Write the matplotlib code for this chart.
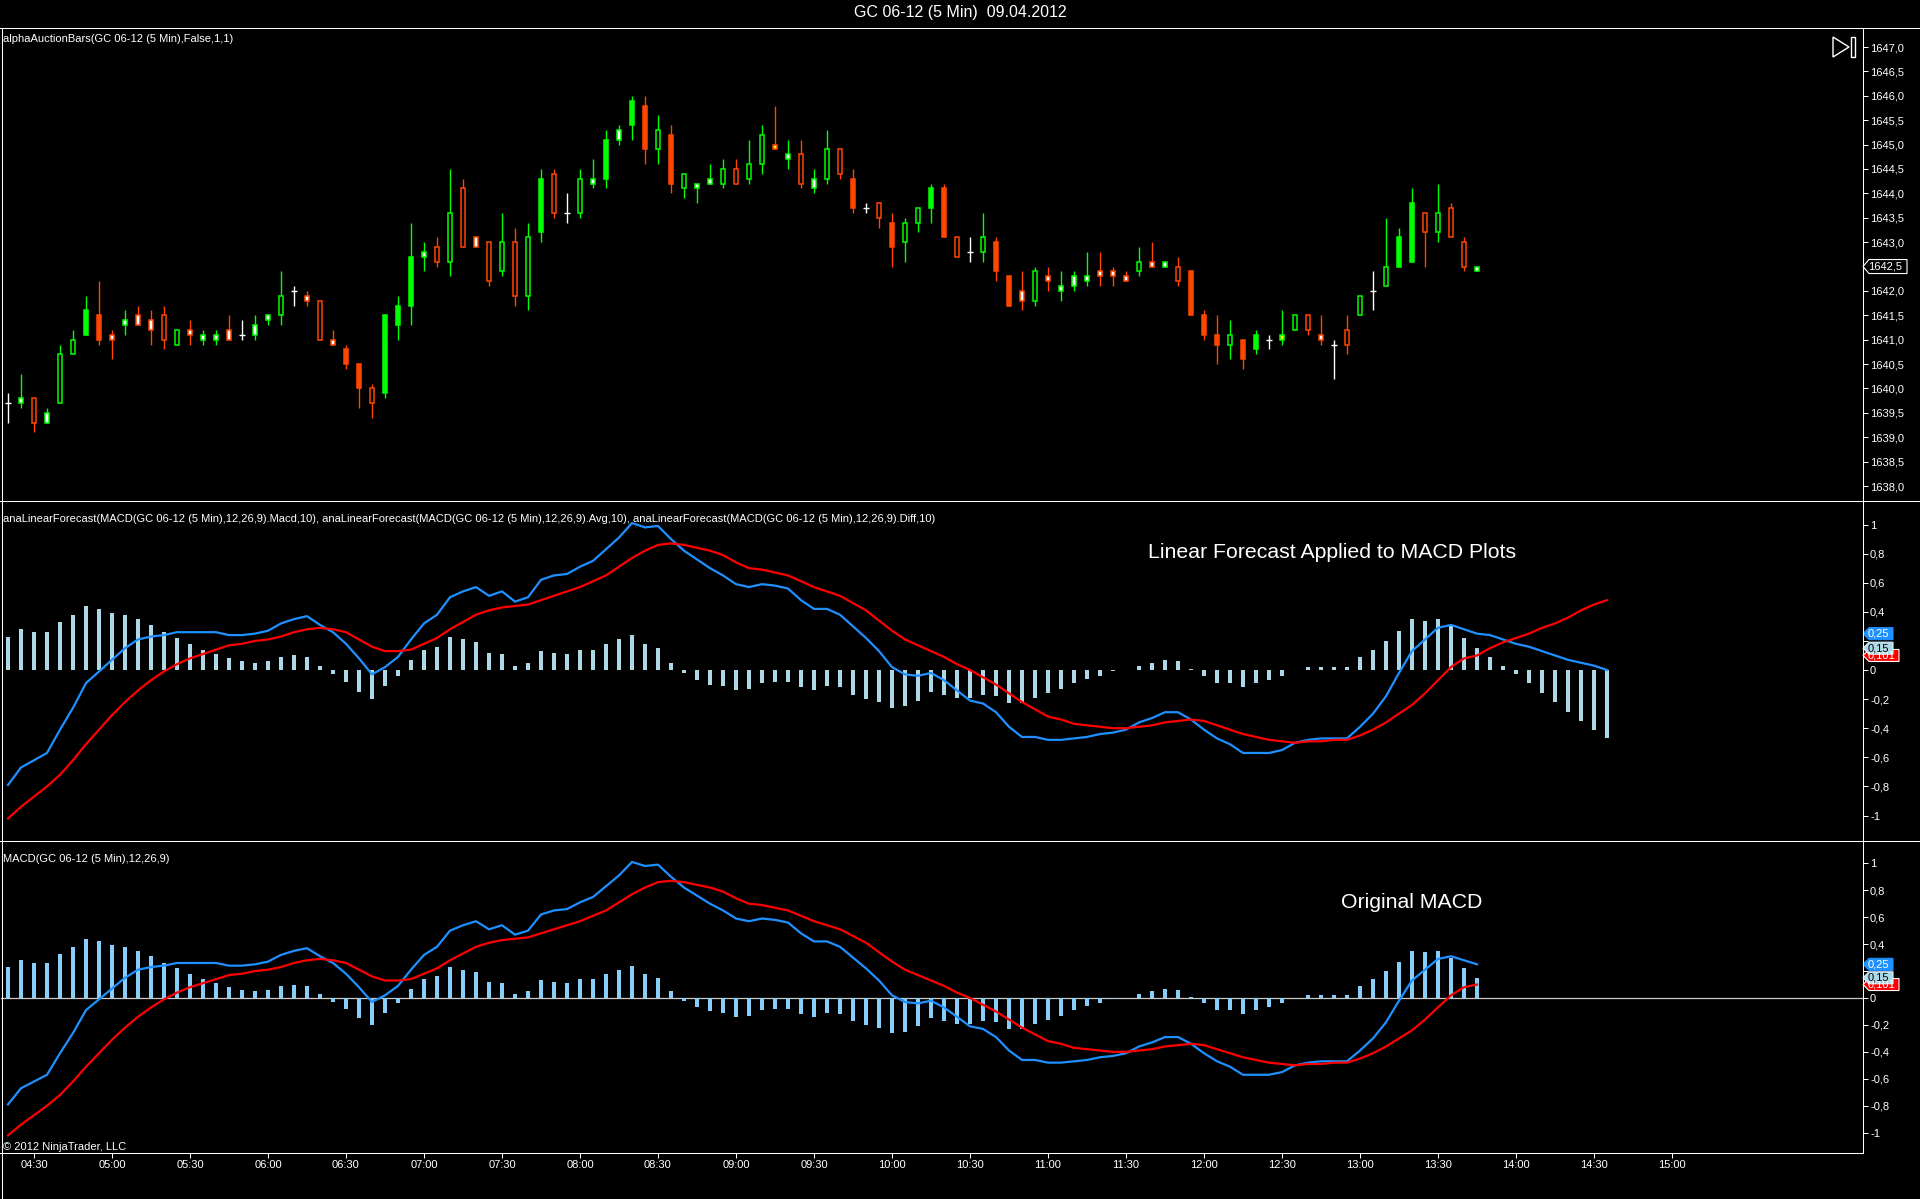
import numpy as np
import matplotlib
matplotlib.use("Agg")
import matplotlib.pyplot as plt
import matplotlib.transforms as mtransforms
from matplotlib.patches import Polygon

W, H = 1920, 1199
plt.rcParams["font.family"] = ["Liberation Sans", "DejaVu Sans"]
INK = "white"

# ---- GC 06-12, 5 min bars from 04:20 to 13:45 -------------------------------
opens = [1639.7, 1639.7, 1639.8, 1639.3, 1639.7, 1640.7, 1641.1, 1641.5, 1641.1, 1641.3,
         1641.5, 1641.4, 1641.5, 1640.9, 1641.2, 1641.0, 1641.0, 1641.2, 1641.1, 1641.1,
         1641.4, 1641.5, 1642.0, 1641.9, 1641.8, 1641.0, 1640.8, 1640.5, 1640.0, 1639.9,
         1641.3, 1641.7, 1642.7, 1642.9, 1642.6, 1644.1, 1643.1, 1643.0, 1642.4, 1643.0,
         1641.9, 1643.2, 1644.4, 1643.6, 1643.6, 1644.2, 1644.3, 1645.1, 1645.4, 1645.8,
         1644.9, 1645.2, 1644.1, 1644.1, 1644.2, 1644.2, 1644.5, 1644.3, 1644.6, 1645.0,
         1644.7, 1644.8, 1644.1, 1644.3, 1644.9, 1644.3, 1643.7, 1643.8, 1643.4, 1643.0,
         1643.4, 1643.7, 1644.1, 1643.1, 1642.8, 1642.8, 1643.0, 1642.3, 1642.0, 1641.8,
         1642.3, 1642.0, 1642.1, 1642.2, 1642.4, 1642.4, 1642.3, 1642.4, 1642.6, 1642.5,
         1642.5, 1642.4, 1641.5, 1641.1, 1640.9, 1641.0, 1640.8, 1641.0, 1641.0, 1641.2,
         1641.5, 1641.1, 1640.9, 1641.2, 1641.5, 1642.0, 1642.1, 1642.5, 1642.6, 1643.6,
         1643.2, 1643.7, 1643.0, 1642.4]
highs = [1639.9, 1640.3, 1639.8, 1639.6, 1640.9, 1641.2, 1641.9, 1642.2, 1641.2, 1641.6,
         1641.7, 1641.6, 1641.7, 1641.2, 1641.4, 1641.2, 1641.2, 1641.5, 1641.4, 1641.5,
         1641.5, 1642.4, 1642.1, 1642.0, 1641.8, 1641.2, 1640.9, 1640.5, 1640.1, 1641.5,
         1641.9, 1643.4, 1643.0, 1643.1, 1644.5, 1644.3, 1643.1, 1643.0, 1643.6, 1643.3,
         1643.4, 1644.5, 1644.5, 1644.0, 1644.5, 1644.7, 1645.3, 1645.4, 1646.0, 1646.0,
         1645.6, 1645.4, 1644.4, 1644.2, 1644.6, 1644.7, 1644.7, 1645.1, 1645.4, 1645.8,
         1645.1, 1645.1, 1644.5, 1645.3, 1644.9, 1644.5, 1643.8, 1643.8, 1643.6, 1643.5,
         1643.7, 1644.2, 1644.2, 1643.1, 1643.1, 1643.6, 1643.1, 1642.3, 1642.4, 1642.5,
         1642.5, 1642.4, 1642.4, 1642.8, 1642.8, 1642.5, 1642.4, 1642.9, 1643.0, 1642.6,
         1642.7, 1642.4, 1641.6, 1641.5, 1641.4, 1641.0, 1641.2, 1641.1, 1641.6, 1641.5,
         1641.5, 1641.5, 1641.0, 1641.5, 1641.9, 1642.4, 1643.5, 1643.3, 1644.1, 1643.6,
         1644.2, 1643.8, 1643.1, 1642.5]
lows = [1639.3, 1639.6, 1639.1, 1639.3, 1639.7, 1640.7, 1641.1, 1640.9, 1640.6, 1641.1,
        1641.3, 1640.9, 1640.8, 1640.9, 1640.9, 1640.9, 1640.9, 1641.0, 1641.0, 1641.0,
        1641.3, 1641.3, 1641.7, 1641.7, 1641.0, 1640.9, 1640.4, 1639.6, 1639.4, 1639.8,
        1641.0, 1641.3, 1642.4, 1642.5, 1642.3, 1642.9, 1642.9, 1642.1, 1642.3, 1641.7,
        1641.6, 1643.0, 1643.5, 1643.4, 1643.5, 1644.1, 1644.1, 1645.0, 1645.1, 1644.6,
        1644.6, 1644.0, 1643.9, 1643.8, 1644.2, 1644.1, 1644.2, 1644.2, 1644.4, 1644.9,
        1644.5, 1644.1, 1644.0, 1644.2, 1644.3, 1643.6, 1643.6, 1643.3, 1642.5, 1642.6,
        1643.2, 1643.4, 1643.1, 1642.7, 1642.6, 1642.6, 1642.2, 1641.7, 1641.6, 1641.7,
        1642.0, 1641.8, 1642.0, 1642.1, 1642.1, 1642.1, 1642.2, 1642.3, 1642.5, 1642.5,
        1642.1, 1641.5, 1641.0, 1640.5, 1640.6, 1640.4, 1640.7, 1640.8, 1640.9, 1641.2,
        1641.1, 1640.9, 1640.2, 1640.7, 1641.5, 1641.6, 1642.1, 1642.5, 1642.6, 1642.5,
        1643.0, 1643.1, 1642.4, 1642.4]
closes = [1639.7, 1639.8, 1639.3, 1639.5, 1640.7, 1641.0, 1641.6, 1641.0, 1641.0, 1641.4,
          1641.3, 1641.2, 1641.0, 1641.2, 1641.1, 1641.1, 1641.1, 1641.0, 1641.1, 1641.3,
          1641.5, 1641.9, 1642.0, 1641.8, 1641.0, 1640.9, 1640.5, 1640.0, 1639.7, 1641.5,
          1641.7, 1642.7, 1642.8, 1642.6, 1643.6, 1642.9, 1642.9, 1642.2, 1643.0, 1641.9,
          1643.1, 1644.3, 1643.6, 1643.6, 1644.3, 1644.3, 1645.1, 1645.3, 1645.9, 1644.9,
          1645.3, 1644.2, 1644.4, 1644.2, 1644.3, 1644.5, 1644.2, 1644.6, 1645.2, 1644.9,
          1644.8, 1644.2, 1644.3, 1644.9, 1644.4, 1643.7, 1643.7, 1643.5, 1642.9, 1643.4,
          1643.7, 1644.1, 1643.1, 1642.7, 1642.8, 1643.1, 1642.4, 1641.7, 1641.8, 1642.4,
          1642.2, 1642.1, 1642.3, 1642.3, 1642.3, 1642.3, 1642.2, 1642.6, 1642.5, 1642.6,
          1642.2, 1641.5, 1641.1, 1640.9, 1641.1, 1640.6, 1641.1, 1641.0, 1641.1, 1641.5,
          1641.2, 1641.0, 1640.9, 1640.9, 1641.9, 1642.0, 1642.5, 1643.1, 1643.8, 1643.2,
          1643.6, 1643.1, 1642.5, 1642.5]
# bar colouring of alphaAuctionBars: G/g green filled/hollow, w white body green edge,
# R/r orange filled/hollow, o white body orange edge, y/Y yellow body, x doji
styles = ("xwrwggGRow" "oorgowwoxw" "wgxoroRRrG" "GGwrgrorgr" "gGrxgwGwGR"
          "gRgwwgrggy" "wrwgrRxrRg" "gGRrxgRRog" "owwwooogow" "rRRRgRGxYg"
          "roxrgxgGGr" "grrw")

# ---- MACD(12,26,9) with 10 bar linear forecast (last 10 values are the forecast)
macd = [-0.79, -0.67, -0.62, -0.57, -0.41, -0.26, -0.09, -0.01, 0.07, 0.15,
        0.21, 0.23, 0.24, 0.26, 0.26, 0.26, 0.26, 0.24, 0.24, 0.25,
        0.27, 0.32, 0.35, 0.37, 0.31, 0.26, 0.18, 0.08, -0.03, 0.02,
        0.09, 0.21, 0.32, 0.38, 0.50, 0.54, 0.57, 0.51, 0.54, 0.47,
        0.50, 0.62, 0.65, 0.66, 0.71, 0.75, 0.83, 0.91, 1.01, 0.98,
        0.99, 0.90, 0.82, 0.76, 0.70, 0.65, 0.59, 0.57, 0.59, 0.58,
        0.56, 0.48, 0.42, 0.42, 0.38, 0.30, 0.22, 0.13, 0.02, -0.03,
        -0.04, -0.02, -0.07, -0.14, -0.21, -0.23, -0.29, -0.39, -0.46, -0.46,
        -0.48, -0.48, -0.47, -0.46, -0.44, -0.43, -0.41, -0.36, -0.33, -0.29,
        -0.29, -0.34, -0.41, -0.47, -0.51, -0.57, -0.57, -0.57, -0.55, -0.50,
        -0.48, -0.47, -0.47, -0.47, -0.39, -0.30, -0.18, -0.02, 0.13, 0.21,
        0.29, 0.31, 0.28, 0.25, 0.24, 0.21, 0.18, 0.16, 0.13, 0.10,
        0.07, 0.05, 0.03, 0.00]
signal = [-1.02, -0.94, -0.87, -0.80, -0.72, -0.62, -0.51, -0.41, -0.31, -0.22,
          -0.14, -0.07, -0.01, 0.04, 0.08, 0.11, 0.14, 0.17, 0.18, 0.20,
          0.21, 0.23, 0.26, 0.28, 0.29, 0.28, 0.26, 0.21, 0.16, 0.13,
          0.13, 0.14, 0.18, 0.22, 0.28, 0.33, 0.38, 0.41, 0.43, 0.44,
          0.45, 0.48, 0.51, 0.54, 0.57, 0.61, 0.65, 0.71, 0.77, 0.82,
          0.86, 0.87, 0.86, 0.84, 0.82, 0.79, 0.74, 0.70, 0.69, 0.67,
          0.65, 0.61, 0.57, 0.54, 0.51, 0.46, 0.41, 0.34, 0.27, 0.21,
          0.17, 0.13, 0.09, 0.04, 0.00, -0.05, -0.10, -0.16, -0.22, -0.27,
          -0.32, -0.34, -0.37, -0.38, -0.39, -0.40, -0.40, -0.39, -0.38, -0.36,
          -0.35, -0.34, -0.35, -0.38, -0.41, -0.44, -0.46, -0.48, -0.49, -0.50,
          -0.49, -0.49, -0.48, -0.48, -0.45, -0.41, -0.36, -0.30, -0.24, -0.16,
          -0.07, 0.02, 0.08, 0.10, 0.15, 0.19, 0.22, 0.25, 0.29, 0.32,
          0.36, 0.41, 0.45, 0.48]
diff = [0.23, 0.28, 0.26, 0.26, 0.33, 0.38, 0.44, 0.42, 0.39, 0.38,
        0.35, 0.31, 0.26, 0.22, 0.18, 0.14, 0.11, 0.08, 0.06, 0.05,
        0.06, 0.09, 0.10, 0.09, 0.03, -0.03, -0.08, -0.15, -0.20, -0.11,
        -0.04, 0.07, 0.14, 0.16, 0.23, 0.21, 0.19, 0.12, 0.11, 0.03,
        0.05, 0.13, 0.12, 0.11, 0.14, 0.14, 0.18, 0.21, 0.24, 0.18,
        0.15, 0.05, -0.02, -0.07, -0.10, -0.11, -0.14, -0.13, -0.09, -0.08,
        -0.08, -0.12, -0.14, -0.11, -0.12, -0.17, -0.20, -0.22, -0.26, -0.25,
        -0.21, -0.15, -0.17, -0.19, -0.19, -0.17, -0.18, -0.23, -0.23, -0.19,
        -0.16, -0.13, -0.09, -0.06, -0.04, -0.01, 0.00, 0.03, 0.05, 0.07,
        0.06, 0.01, -0.04, -0.09, -0.09, -0.12, -0.09, -0.07, -0.04, 0.00,
        0.02, 0.02, 0.02, 0.02, 0.09, 0.14, 0.20, 0.27, 0.35, 0.34,
        0.35, 0.30, 0.22, 0.15, 0.09, 0.03, -0.03, -0.09, -0.16, -0.22,
        -0.29, -0.35, -0.41, -0.47]

time_labels = ["04:30", "05:00", "05:30", "06:00", "06:30", "07:00", "07:30", "08:00",
               "08:30", "09:00", "09:30", "10:00", "10:30", "11:00", "11:30", "12:00",
               "12:30", "13:00", "13:30", "14:00", "14:30", "15:00"]
last_labels = [("0,101", 0.10, "#FF0000", "white", "white"),
               ("0,15", 0.15, "#ADD8E6", "black", "#E0F0F8"),
               ("0,25", 0.25, "#1E90FF", "white", "#1E90FF")]

n_real = len(closes)
x_all = np.arange(len(macd))
x_real = np.arange(n_real)
t0 = 4 * 60 + 20                      # first bar 04:20
tick_pos = [(int(s[:2]) * 60 + int(s[3:]) - t0) / 5 for s in time_labels]


def px_rect(x0, y0, x1, y1):
    return [x0 / W, 1 - y1 / H, (x1 - x0) / W, (y1 - y0) / H]


def comma(v, nd):
    s = f"{v:.{nd}f}".replace(".", ",")
    return s


fig = plt.figure(figsize=(W / 100, H / 100), dpi=100, facecolor="black")
XL = ((1 - 8) / 13, (1863 - 8) / 13)

ax1 = fig.add_axes(px_rect(1, 28, 1863, 501))
ax2 = fig.add_axes(px_rect(1, 501, 1863, 841))
ax3 = fig.add_axes(px_rect(1, 841, 1863, 1153))
for ax in (ax1, ax2, ax3):
    ax.set_facecolor("black")
    ax.set_xlim(*XL)
    for sp in ax.spines.values():
        sp.set_visible(False)
    ax.yaxis.tick_right()
    ax.tick_params(axis="y", which="both", direction="out", length=3.6, width=0.72,
                   colors=INK, labelsize=8, pad=1.5)
    ax.tick_params(axis="x", which="both", bottom=False, labelbottom=False)

# ---- price panel --------------------------------------------------------------
ax1.set_ylim(1637.693, 1647.39)
pt = np.arange(1638.0, 1647.01, 0.5)
ax1.set_yticks(pt)
ax1.set_yticklabels([comma(v, 1) for v in pt])

fills = {"G": "#00FF00", "g": "black", "w": "white", "R": "#FF4500", "r": "black",
         "o": "white", "y": "#FFFF00", "Y": "#FFFF00"}
edges = {"G": "#00FF00", "g": "#00FF00", "w": "#00FF00", "R": "#FF4500", "r": "#FF4500",
         "o": "#FF4500", "y": "#FF4500", "Y": "#00FF00"}
o_ = np.array(opens); c_ = np.array(closes)
for i, st in enumerate(styles):
    if st == "x":
        ax1.vlines(i, lows[i], highs[i], color="white", lw=1.0, zorder=2)
        ax1.hlines(o_[i], i - 0.22, i + 0.22, color="white", lw=1.0, zorder=2)
        continue
    ax1.vlines(i, lows[i], highs[i], color=edges[st], lw=1.0, zorder=2)
    lo, hi = min(o_[i], c_[i]), max(o_[i], c_[i])
    ax1.bar(i, hi - lo, bottom=lo, width=0.28, facecolor=fills[st],
            edgecolor=edges[st], linewidth=1.1, zorder=3)

# ---- forecast MACD panel --------------------------------------------------------
ax2.set_ylim(-1.175, 1.1615)
ax3.set_ylim(-1.1507, 1.1655)
mt = [1, 0.8, 0.6, 0.4, 0.2, 0, -0.2, -0.4, -0.6, -0.8, -1]
for ax in (ax2, ax3):
    ax.set_yticks(mt)
    ax.set_yticklabels(["" if v == 0.2 else (comma(v, 0) if v in (1, 0, -1) else comma(v, 1))
                        for v in mt])

ax2.bar(x_all, diff, width=0.33, color="#ADD8E6", zorder=2)
ax2.plot(x_all, macd, color="#1E90FF", lw=1.6, zorder=3)
ax2.plot(x_all, signal, color="#FF0000", lw=1.6, zorder=4)

# ---- original MACD panel ----------------------------------------------------------
ax3.axhline(0, color="#C8C8C8", lw=0.9, zorder=1)
ax3.bar(x_real, diff[:n_real], width=0.3, color="#87CEFA", zorder=2)
ax3.plot(x_real, macd[:n_real], color="#1E90FF", lw=1.6, zorder=3)
ax3.plot(x_real, signal[:n_real], color="#FF0000", lw=1.6, zorder=4)
ax3.set_xticks(tick_pos)
ax3.set_xticklabels(time_labels)
ax3.tick_params(axis="x", bottom=True, labelbottom=True, direction="out", length=3.6,
                width=0.72, colors=INK, labelsize=8, pad=1.5)

# ---- overlay in pixel coordinates: frame, texts, value boxes ------------------
cv = fig.add_axes([0, 0, 1, 1], zorder=10)
cv.set_xlim(0, W); cv.set_ylim(H, 0); cv.axis("off"); cv.patch.set_alpha(0)
lk = dict(color=INK, lw=0.75)
cv.plot([0, W], [27.5, 27.5], **lk)
cv.plot([0, W], [501, 501], **lk)
cv.plot([0, W], [841, 841], **lk)
cv.plot([0, 1863], [1153, 1153], **lk)
cv.plot([1863, 1863], [27.5, 1153], **lk)
cv.plot([1.5, 1.5], [27.5, H], **lk)

cv.text(960, 13, "GC 06-12 (5 Min)  09.04.2012", color=INK, fontsize=11.5, ha="center", va="center")
cv.text(3, 39, "alphaAuctionBars(GC 06-12 (5 Min),False,1,1)", color=INK, fontsize=8, va="center")
cv.text(3, 519, "anaLinearForecast(MACD(GC 06-12 (5 Min),12,26,9).Macd,10), "
        "anaLinearForecast(MACD(GC 06-12 (5 Min),12,26,9).Avg,10), "
        "anaLinearForecast(MACD(GC 06-12 (5 Min),12,26,9).Diff,10)", color=INK, fontsize=8, va="center")
cv.text(3, 859, "MACD(GC 06-12 (5 Min),12,26,9)", color=INK, fontsize=8, va="center")
cv.text(3, 1147, "© 2012 NinjaTrader, LLC", color=INK, fontsize=8, va="center")
cv.text(1148, 552, "Linear Forecast Applied to MACD Plots", color=INK, fontsize=15.3, va="center")
cv.text(1341, 902, "Original MACD", color=INK, fontsize=15.3, va="center")

# go-to-end icon
cv.add_patch(Polygon([(1833, 37), (1833, 57), (1849, 47)], closed=True, fill=False, ec=INK, lw=1.0))
cv.add_patch(Polygon([(1851, 37), (1855, 37), (1855, 57), (1851, 57)], closed=True, fill=False, ec=INK, lw=1.0))


def value_box(ax, ppu, v, text, fc, tc, ec, right=1893, hpx=12):
    tr = mtransforms.blended_transform_factory(cv.transData, ax.transData)
    h = hpx / 2 / ppu
    pts = [(1863, v), (1869, v + h), (right, v + h), (right, v - h), (1869, v - h)]
    cv.add_patch(Polygon(pts, closed=True, fc=fc, ec=ec, lw=0.8, transform=tr, clip_on=False))
    cv.text(1868, v, text, color=tc, fontsize=8, va="center", ha="left", transform=tr, clip_on=False)


for ax, ppu in ((ax2, 145.5), (ax3, 134.7)):
    for text, v, fc, tc, ec in last_labels:
        value_box(ax, ppu, v, text, fc, tc, ec, right=1899 if text == "0,101" else 1893)

value_box(ax1, 48.78, closes[-1], comma(closes[-1], 1), "black", INK, INK, right=1907, hpx=14)

fig.savefig("out.png", dpi=100, facecolor="black")
